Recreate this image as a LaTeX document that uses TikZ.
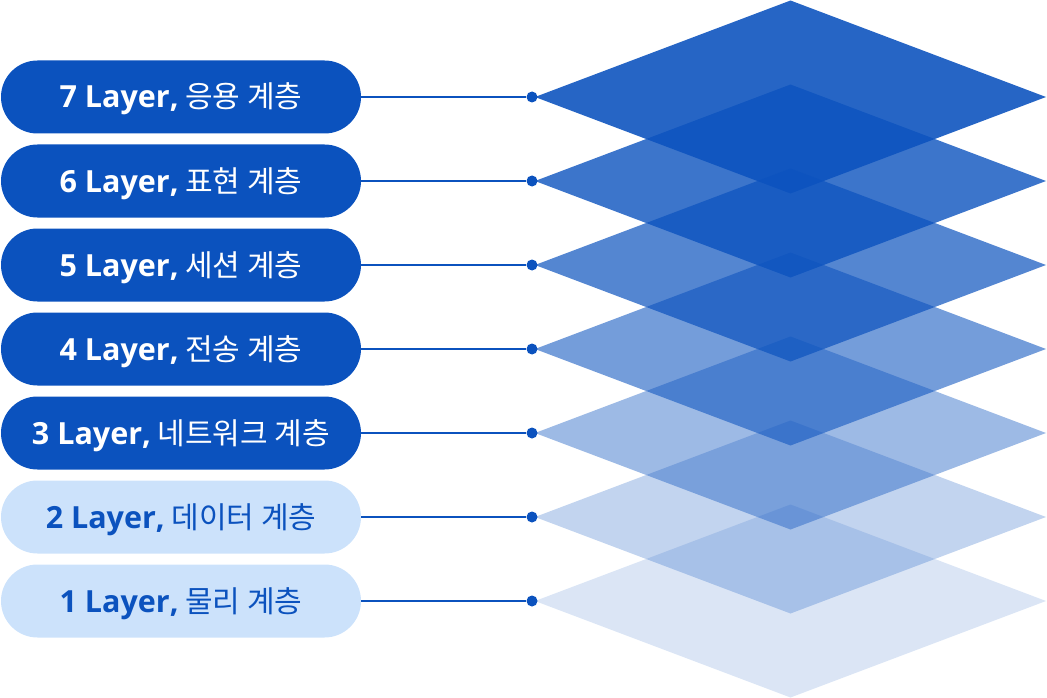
\documentclass[tikz,border=0pt]{standalone}
\usepackage{fontspec}
\setmainfont{Open Sans}
\newfontfamily\kr{Noto Sans CJK KR}
\definecolor{navy}{HTML}{0B52BE}
\definecolor{pale}{HTML}{CCE2FB}
\newcommand{\lbl}[2]{{\fontsize{30.5}{34}\selectfont\bfseries #1}{\kr\fontsize{30}{34}\selectfont\ #2}}
\begin{document}
\begin{tikzpicture}[x=1pt,y=-1pt,
  pill/.style={rectangle, rounded corners=36.5pt, minimum width=360pt, minimum height=73pt,
    inner sep=0pt, text height=22pt, text depth=0pt},
  pilldark/.style={pill, fill=navy, text=white},
  pilllight/.style={pill, fill=pale, text=navy},
  dot/.style={circle, fill=navy, minimum size=11pt, inner sep=0pt},
  link/.style={draw=navy, line width=2.2pt},
  layer/.style={fill=navy, draw=none}]
\useasboundingbox (0,0) rectangle (1047,698);
% layers (planes)
\foreach \i/\op in {1/0.15,2/0.25,3/0.40,4/0.57,5/0.70,6/0.80,7/0.89}{
  \pgfmathsetmacro{\yc}{601-(\i-1)*84}
  \fill[layer, fill opacity=\op] (535,\yc) -- (790.5,\yc-96.5) -- (1046,\yc) -- (790.5,\yc+96.5) -- cycle;
}
% pills
\node[pilldark]  (p7) at (181,97)  {\lbl{7 Layer,}{응용 계층}};
\node[pilldark]  (p6) at (181,181) {\lbl{6 Layer,}{표현 계층}};
\node[pilldark]  (p5) at (181,265) {\lbl{5 Layer,}{세션 계층}};
\node[pilldark]  (p4) at (181,349) {\lbl{4 Layer,}{전송 계층}};
\node[pilldark]  (p3) at (181,433) {\lbl{3 Layer,}{네트워크 계층}};
\node[pilllight] (p2) at (181,517) {\lbl{2 Layer,}{데이터 계층}};
\node[pilllight] (p1) at (181,601) {\lbl{1 Layer,}{물리 계층}};
% dots and connectors
\foreach \i in {1,...,7}{
  \pgfmathsetmacro{\yc}{601-(\i-1)*84}
  \node[dot] (d\i) at (532,\yc) {};
  \draw[link] (p\i.east) -- (d\i);
}
\end{tikzpicture}
\end{document}
